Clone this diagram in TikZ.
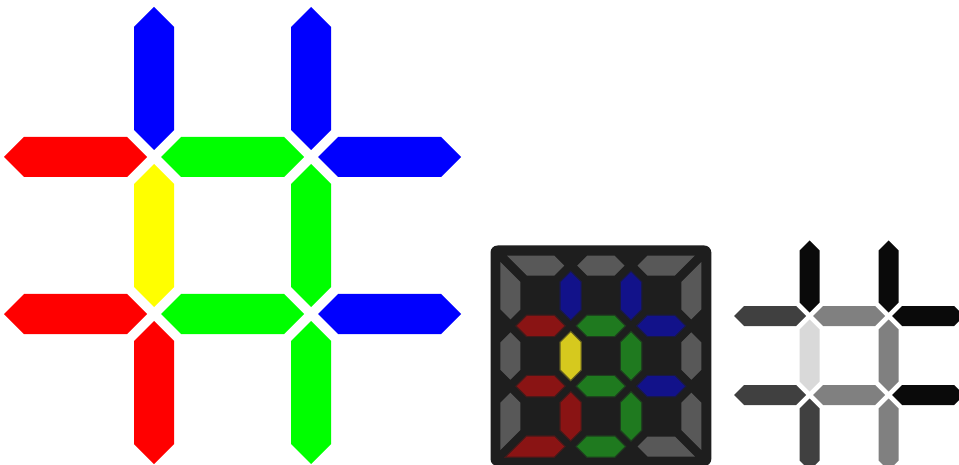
\documentclass[tikz,border=0pt]{standalone}
\usetikzlibrary{calc}
\definecolor{pRed}{RGB}{255,0,0}
\definecolor{pGreen}{RGB}{0,255,0}
\definecolor{pBlue}{RGB}{0,0,255}
\definecolor{pYellow}{RGB}{255,255,0}
\definecolor{dBg}{RGB}{30,30,30}
\definecolor{dGray}{RGB}{88,88,88}
\definecolor{dRed}{RGB}{138,20,20}
\definecolor{dGreen}{RGB}{31,122,31}
\definecolor{dBlue}{RGB}{18,18,138}
\definecolor{dYellow}{RGB}{214,201,30}
\definecolor{gBlack}{RGB}{10,10,10}
\definecolor{gDark}{RGB}{64,64,64}
\definecolor{gMid}{RGB}{128,128,128}
\definecolor{gLight}{RGB}{217,217,217}
% horizontal segment: style, x1, x2, y, tip offset, half width
\newcommand\hsegm[6]{%
  \fill[#1] ({#2+#5},{#4}) -- ({#2+#5+#6},{#4-#6}) -- ({#3-#5-#6},{#4-#6}) -- ({#3-#5},{#4}) -- ({#3-#5-#6},{#4+#6}) -- ({#2+#5+#6},{#4+#6}) -- cycle;}
% vertical segment: style, y1, y2, x, tip offset, half width
\newcommand\vsegm[6]{%
  \fill[#1] ({#4},{#2+#5}) -- ({#4+#6},{#2+#5+#6}) -- ({#4+#6},{#3-#5-#6}) -- ({#4},{#3-#5}) -- ({#4-#6},{#3-#5-#6}) -- ({#4-#6},{#2+#5+#6}) -- cycle;}
\tikzset{
  glowR/.style={fill=dRed, draw=dRed, draw opacity=0.35, line width=2.5pt},
  glowG/.style={fill=dGreen, draw=dGreen, draw opacity=0.35, line width=2.5pt},
  glowB/.style={fill=dBlue, draw=dBlue, draw opacity=0.35, line width=2.5pt},
  glowY/.style={fill=dYellow, draw=dYellow, draw opacity=0.35, line width=2.5pt},
  off/.style={fill=dGray}
}
\begin{document}
\begin{tikzpicture}[x=1pt,y=-1pt]
\useasboundingbox (0,0) rectangle (959,465);
\clip (0,0) rectangle (959,465);
\fill[white] (0,0) rectangle (959,465);

% ---------- big coloured hash ----------
\def\bt{7}\def\bw{20}
\vsegm{pBlue}{0}{157}{154}{\bt}{\bw}
\vsegm{pBlue}{0}{157}{311}{\bt}{\bw}
\hsegm{pRed}{-3}{154}{157}{\bt}{\bw}
\hsegm{pGreen}{154}{311}{157}{\bt}{\bw}
\hsegm{pBlue}{311}{468}{157}{\bt}{\bw}
\vsegm{pYellow}{157}{314}{154}{\bt}{\bw}
\vsegm{pGreen}{157}{314}{311}{\bt}{\bw}
\hsegm{pRed}{-3}{154}{314}{\bt}{\bw}
\hsegm{pGreen}{154}{311}{314}{\bt}{\bw}
\hsegm{pBlue}{311}{468}{314}{\bt}{\bw}
\vsegm{pRed}{314}{471}{154}{\bt}{\bw}
\vsegm{pGreen}{314}{471}{311}{\bt}{\bw}

% ---------- dark LED panel ----------
\fill[dBg, rounded corners=7pt] (490.5,245.5) rectangle (711.3,466);
\def\ca{510.4}\def\cb{570.7}\def\cc{631.0}\def\cd{691.3}
\def\ra{265.6}\def\rb{325.9}\def\rc{386.2}\def\rd{446.5}
\def\dt{6.5}\def\dw{10}
% border: top row
\fill[off] ({\ca-3.5},{\ra-10}) -- ({\cb-16.5},{\ra-10}) -- ({\cb-6.5},{\ra}) -- ({\cb-16.5},{\ra+10}) -- ({\ca+16.5},{\ra+10}) -- cycle;
\hsegm{off}{\cb}{\cc}{\ra}{\dt}{\dw}
\fill[off] ({\cc+6.5},{\ra}) -- ({\cc+16.5},{\ra-10}) -- ({\cd+3.5},{\ra-10}) -- ({\cd-16.5},{\ra+10}) -- ({\cc+16.5},{\ra+10}) -- cycle;
% border: bottom row
\fill[glowR] ({\ca+16.5},{\rd-10}) -- ({\cb-16.5},{\rd-10}) -- ({\cb-6.5},{\rd}) -- ({\cb-16.5},{\rd+10}) -- ({\ca-3.5},{\rd+10}) -- cycle;
\hsegm{glowG}{\cb}{\cc}{\rd}{\dt}{\dw}
\fill[off] ({\cc+6.5},{\rd}) -- ({\cc+16.5},{\rd-10}) -- ({\cd-16.5},{\rd-10}) -- ({\cd+3.5},{\rd+10}) -- ({\cc+16.5},{\rd+10}) -- cycle;
% border: left column
\fill[off] ({\ca-10},{\ra-3.5}) -- ({\ca+10},{\ra+16.5}) -- ({\ca+10},{\rb-16.5}) -- ({\ca},{\rb-6.5}) -- ({\ca-10},{\rb-16.5}) -- cycle;
\vsegm{off}{\rb}{\rc}{\ca}{\dt}{\dw}
\fill[off] ({\ca},{\rc+6.5}) -- ({\ca+10},{\rc+16.5}) -- ({\ca+10},{\rd-16.5}) -- ({\ca-10},{\rd+3.5}) -- ({\ca-10},{\rc+16.5}) -- cycle;
% border: right column
\fill[off] ({\cd+10},{\ra-3.5}) -- ({\cd+10},{\rb-16.5}) -- ({\cd},{\rb-6.5}) -- ({\cd-10},{\rb-16.5}) -- ({\cd-10},{\ra+16.5}) -- cycle;
\vsegm{off}{\rb}{\rc}{\cd}{\dt}{\dw}
\fill[off] ({\cd},{\rc+6.5}) -- ({\cd+10},{\rc+16.5}) -- ({\cd+10},{\rd+3.5}) -- ({\cd-10},{\rd-16.5}) -- ({\cd-10},{\rc+16.5}) -- cycle;
% inner hash
\vsegm{glowB}{\ra}{\rb}{\cb}{\dt}{\dw}
\vsegm{glowB}{\ra}{\rb}{\cc}{\dt}{\dw}
\hsegm{glowR}{\ca}{\cb}{\rb}{\dt}{\dw}
\hsegm{glowG}{\cb}{\cc}{\rb}{\dt}{\dw}
\hsegm{glowB}{\cc}{\cd}{\rb}{\dt}{\dw}
\vsegm{glowY}{\rb}{\rc}{\cb}{\dt}{\dw}
\vsegm{glowG}{\rb}{\rc}{\cc}{\dt}{\dw}
\hsegm{glowR}{\ca}{\cb}{\rc}{\dt}{\dw}
\hsegm{glowG}{\cb}{\cc}{\rc}{\dt}{\dw}
\hsegm{glowB}{\cc}{\cd}{\rc}{\dt}{\dw}
\vsegm{glowR}{\rc}{\rd}{\cb}{\dt}{\dw}
\vsegm{glowG}{\rc}{\rd}{\cc}{\dt}{\dw}

% ---------- greyscale hash ----------
\def\gt{3.5}\def\gw{10}
\def\ga{809.5}\def\gb{888.5}\def\gr{316}\def\gs{395}
\vsegm{gBlack}{237}{\gr}{\ga}{\gt}{\gw}
\vsegm{gBlack}{237}{\gr}{\gb}{\gt}{\gw}
\hsegm{gDark}{730.5}{\ga}{\gr}{\gt}{\gw}
\hsegm{gMid}{\ga}{\gb}{\gr}{\gt}{\gw}
\hsegm{gBlack}{\gb}{967.5}{\gr}{\gt}{\gw}
\vsegm{gLight}{\gr}{\gs}{\ga}{\gt}{\gw}
\vsegm{gMid}{\gr}{\gs}{\gb}{\gt}{\gw}
\hsegm{gDark}{730.5}{\ga}{\gs}{\gt}{\gw}
\hsegm{gMid}{\ga}{\gb}{\gs}{\gt}{\gw}
\hsegm{gBlack}{\gb}{967.5}{\gs}{\gt}{\gw}
\vsegm{gDark}{\gs}{474}{\ga}{\gt}{\gw}
\vsegm{gMid}{\gs}{474}{\gb}{\gt}{\gw}
\end{tikzpicture}
\end{document}
